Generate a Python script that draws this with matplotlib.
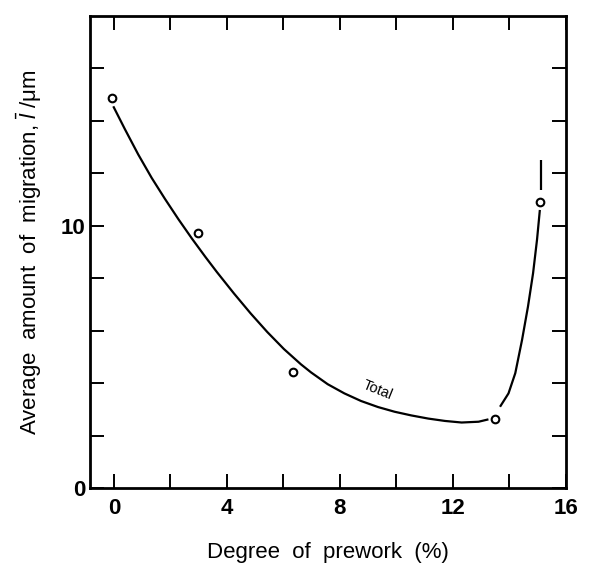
import matplotlib
matplotlib.use("Agg")
import matplotlib.pyplot as plt
from matplotlib.ticker import FixedLocator

plt.rcParams['font.family'] = ['Liberation Sans', 'DejaVu Sans']
plt.rcParams['mathtext.fontset'] = 'custom'
plt.rcParams['mathtext.it'] = 'Liberation Sans:italic'
plt.rcParams['mathtext.rm'] = 'Liberation Sans'

# measured points (open circles)
prework = [-0.08, 2.98, 6.33, 13.49, 15.09]
migration = [14.85, 9.72, 4.43, 2.65, 10.9]

# hand-drawn "Total" curve in three pieces
curve1_x = [-0.02, 0.39, 0.86, 1.34, 1.81, 2.29, 2.77, 3.24, 3.65, 4.25, 4.84,
            5.43, 6.02, 6.62, 6.98, 7.57, 8.16, 8.75, 9.35, 9.94, 10.53,
            11.13, 11.72, 12.31, 12.91, 13.26]
curve1_y = [14.55, 13.68, 12.72, 11.82, 11.02, 10.24, 9.50, 8.81, 8.23, 7.42, 6.66,
            5.95, 5.30, 4.72, 4.41, 3.96, 3.61, 3.32, 3.09, 2.91, 2.77,
            2.65, 2.56, 2.50, 2.53, 2.62]
curve2_x = [13.67, 13.97, 14.21, 14.45, 14.66, 14.84, 14.98, 15.08]
curve2_y = [3.10, 3.61, 4.38, 5.65, 6.92, 8.19, 9.47, 10.6]
curve3_x = [15.12, 15.12]
curve3_y = [11.37, 12.52]

fig = plt.figure(figsize=(5.95, 5.63), dpi=100)
ax = fig.add_axes([0.151, 0.133, 0.800, 0.839])

for cx, cy in [(curve1_x, curve1_y), (curve2_x, curve2_y), (curve3_x, curve3_y)]:
    ax.plot(cx, cy, color='black', lw=1.6, solid_capstyle='butt',
            solid_joinstyle='round')

ax.plot(prework, migration, 'o', ms=5.5, mfc='white', mec='black', mew=1.5)

ax.text(9.35, 3.74, 'Total', rotation=-22, fontsize=10.5, ha='center', va='center')

ax.set_xlim(-0.85, 16)
ax.set_ylim(0, 18)

ax.xaxis.set_major_locator(FixedLocator([0, 4, 8, 12, 16]))
ax.xaxis.set_minor_locator(FixedLocator([2, 6, 10, 14]))
ax.yaxis.set_major_locator(FixedLocator([0, 10]))
ax.yaxis.set_minor_locator(FixedLocator([2, 4, 6, 8, 12, 14, 16]))

ax.tick_params(which='both', direction='in', top=True, right=True,
               length=10, width=1.4)
ax.tick_params(axis='x', which='major', pad=7)
ax.tick_params(axis='y', which='major', pad=3)
for lab in ax.get_xticklabels() + ax.get_yticklabels():
    lab.set_fontsize(16)
    lab.set_fontweight('bold')

for sp in ax.spines.values():
    sp.set_linewidth(2)

ax.set_xlabel('Degree  of  prework  (%)', fontsize=16, labelpad=17)
ax.set_ylabel(r'Average  amount  of  migration, $\bar{l}$ /$\mathrm{\mu}$m',
              fontsize=16, labelpad=12)

fig.savefig('out.png', dpi=100)
